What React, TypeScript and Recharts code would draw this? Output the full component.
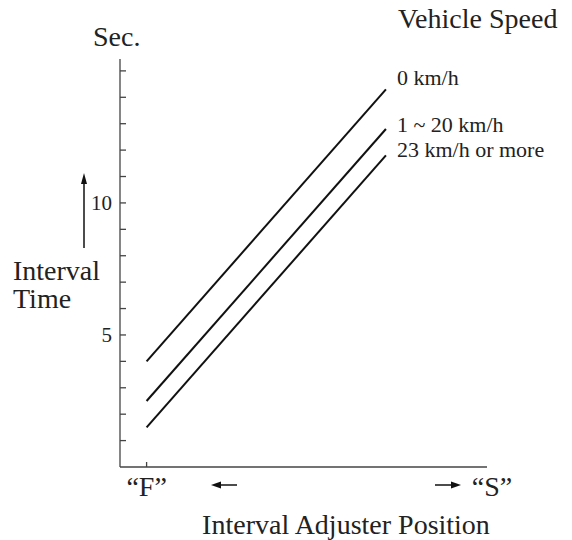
import { LineChart, Line, XAxis, YAxis } from 'recharts'

// interval adjuster position ("F" = 1 ... 10 near "S")
const POSITIONS = [1, 10]
// interval time (sec.) per vehicle speed
const SPEED_0 = [4.0, 14.3]
const SPEED_1_20 = [2.5, 12.8]
const SPEED_23_UP = [1.5, 11.8]
const SERIES_LABELS = ['0 km/h', '1 ~ 20 km/h', '23 km/h or more']
const Y_TICKS = [1, 2, 3, 4, 5, 6, 7, 8, 9, 10, 11, 12, 13, 14, 15]
const Y_LABELED = [5, 10]
const X_TICKS = [1]

const data = POSITIONS.map((x, i) => ({
    x,
    s0: SPEED_0[i],
    s1: SPEED_1_20[i],
    s2: SPEED_23_UP[i],
}))

const FONT = '"Liberation Serif", "Times New Roman", serif'
const INK = '#222'

function endLabel(text: string, dy: number) {
    return (props: any) => {
        const { x, y, index } = props
        if (index !== data.length - 1) return null
        return (
            <text x={x + 11} y={y + dy} fontFamily={FONT} fontSize={22} fill={INK}>
                {text}
            </text>
        )
    }
}

function FTick(props: any) {
    const { x, y } = props
    return (
        <text x={x} y={y} dy="0.71em" textAnchor="middle" fontFamily={FONT} fontSize={28} fill={INK}>
            “F”
        </text>
    )
}

export default function App() {
    return (
        <div style={{ position: 'absolute', left: 0, top: 0, width: 572, height: 540, background: '#fff' }}>
            <LineChart width={572} height={540} data={data} margin={{ top: 59, right: 85, left: 60, bottom: 43 }}>
                <XAxis
                    dataKey="x"
                    type="number"
                    domain={[0, 13.8]}
                    ticks={X_TICKS}
                    height={30}
                    stroke="#444"
                    strokeWidth={1.3}
                    tickSize={-5}
                    tickMargin={14}
                    tick={<FTick />}
                />
                <YAxis
                    type="number"
                    domain={[0, 15.45]}
                    allowDataOverflow
                    ticks={Y_TICKS}
                    width={60}
                    stroke="#444"
                    strokeWidth={1.3}
                    tickSize={-6}
                    tickMargin={14}
                    tickFormatter={(v) => (Y_LABELED.includes(v) ? String(v) : '')}
                    tick={{ fontFamily: FONT, fontSize: 21, fill: INK }}
                />
                <Line dataKey="s0" stroke="#111" strokeWidth={2} dot={false} isAnimationActive={false} label={endLabel(SERIES_LABELS[0], -4)} />
                <Line dataKey="s1" stroke="#111" strokeWidth={2} dot={false} isAnimationActive={false} label={endLabel(SERIES_LABELS[1], 3)} />
                <Line dataKey="s2" stroke="#111" strokeWidth={2} dot={false} isAnimationActive={false} label={endLabel(SERIES_LABELS[2], 2)} />
            </LineChart>
            <svg width={572} height={540} style={{ position: 'absolute', left: 0, top: 0, pointerEvents: 'none' }}>
                <g fontFamily={FONT} fill={INK} fontSize={28}>
                    <text x={398} y={28}>Vehicle Speed</text>
                    <text x={93} y={46}>Sec.</text>
                    <text x={13} y={280}>Interval</text>
                    <text x={13} y={308}>Time</text>
                    <text x={492} y={496} textAnchor="middle">“S”</text>
                    <text x={346} y={534} textAnchor="middle">Interval Adjuster Position</text>
                </g>
                {/* up arrow beside "Interval Time" */}
                <line x1={84} y1={248} x2={84} y2={180} stroke="#111" strokeWidth={1.5} />
                <polygon points="84,173 81,184 87,184" fill="#111" />
                {/* left arrow toward "F" */}
                <line x1={237} y1={485} x2={218} y2={485} stroke="#111" strokeWidth={1.5} />
                <polygon points="211,485 221,481.5 221,488.5" fill="#111" />
                {/* right arrow toward "S" */}
                <line x1={435} y1={485} x2={454} y2={485} stroke="#111" strokeWidth={1.5} />
                <polygon points="461,485 451,481.5 451,488.5" fill="#111" />
            </svg>
        </div>
    )
}
